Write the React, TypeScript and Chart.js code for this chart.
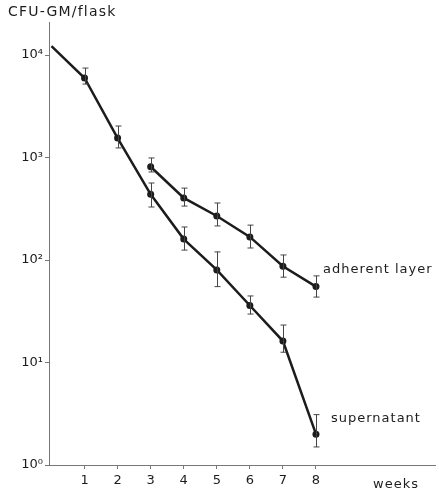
import React, { useEffect, useRef } from "react";
import { Chart, registerables } from "chart.js";

Chart.register(...registerables);

const weeks = [0, 1, 2, 3, 4, 5, 6, 7, 8];
const supernatant = [12200, 5970, 1550, 437, 160, 80, 36, 16.2, 2.0];
const supernatantHigh = [null, 7460, 2030, 564, 210, 120, 44.6, 23.2, 3.1];
const supernatantLow = [null, 5210, 1240, 329, 125, 55, 29.7, 12.6, 1.5];
const adherentWeeks = [3, 4, 5, 6, 7, 8];
const adherent = [813, 403, 269, 168, 87, 55];
const adherentHigh = [990, 503, 360, 219, 112, 70];
const adherentLow = [723, 336, 215, 131, 68, 43.5];
const xTicks = [1, 2, 3, 4, 5, 6, 7, 8];
const yTicks = [1, 10, 100, 1000, 10000];
const yTickLabels: Record<number, string> = { 1: "10⁰", 10: "10¹", 100: "10²", 1000: "10³", 10000: "10⁴" };
const titleText = "CFU-GM/flask";
const xTitleText = "weeks";
const labelAdherent = "adherent layer";
const labelSupernatant = "supernatant";

const FONT = "'DejaVu Sans', sans-serif";
const INK = "#1c1c1c";

export default function App() {
  const ref = useRef<HTMLCanvasElement | null>(null);
  useEffect(() => {
    if (!ref.current) return;
    const errorPlugin = {
      id: "errbars",
      afterDatasetsDraw(chart: any) {
        const ctx = chart.ctx;
        const xs = chart.scales.x;
        const ys = chart.scales.y;
        ctx.save();
        ctx.strokeStyle = "#444";
        ctx.lineWidth = 1;
        const draw = (xv: number[], hi: (number | null)[], lo: (number | null)[]) => {
          xv.forEach((w, i) => {
            const h = hi[i];
            const l = lo[i];
            if (h == null || l == null) return;
            const px = Math.round(xs.getPixelForValue(w)) + 0.5;
            const py1 = ys.getPixelForValue(h);
            const py2 = ys.getPixelForValue(l);
            ctx.beginPath();
            ctx.moveTo(px, py1);
            ctx.lineTo(px, py2);
            ctx.moveTo(px - 3, py1);
            ctx.lineTo(px + 3, py1);
            ctx.moveTo(px - 3, py2);
            ctx.lineTo(px + 3, py2);
            ctx.stroke();
          });
        };
        draw(weeks, supernatantHigh, supernatantLow);
        draw(adherentWeeks, adherentHigh, adherentLow);
        ctx.restore();
      },
      afterDraw(chart: any) {
        const ctx = chart.ctx;
        const xs = chart.scales.x;
        const ys = chart.scales.y;
        ctx.save();
        ctx.fillStyle = INK;
        ctx.textBaseline = "middle";
        ctx.textAlign = "left";
        (ctx as any).letterSpacing = "1.2px";
        ctx.font = `14px ${FONT}`;
        ctx.fillText(titleText, 8, 12);
        (ctx as any).letterSpacing = "1px";
        ctx.font = `13px ${FONT}`;
        const ax = xs.getPixelForValue(adherentWeeks[adherentWeeks.length - 1]);
        const ay = ys.getPixelForValue(adherent[adherent.length - 1]);
        ctx.fillText(labelAdherent, ax + 7, ay - 17);
        const sx = xs.getPixelForValue(weeks[weeks.length - 1]);
        const sy = ys.getPixelForValue(supernatant[supernatant.length - 1]);
        ctx.fillText(labelSupernatant, sx + 15, sy - 16);
        ctx.fillText(xTitleText, 373, 485);
        ctx.restore();
      },
    };

    const chart = new Chart(ref.current, {
      type: "line",
      data: {
        datasets: [
          {
            label: "supernatant",
            data: weeks.map((w, i) => ({ x: w, y: supernatant[i] })),
            borderColor: INK,
            backgroundColor: INK,
            borderWidth: 2.5,
            pointRadius: weeks.map((w) => (w === 0 ? 0 : 3.5)),
            pointBorderWidth: 0,
            tension: 0,
          },
          {
            label: "adherent layer",
            data: adherentWeeks.map((w, i) => ({ x: w, y: adherent[i] })),
            borderColor: INK,
            backgroundColor: INK,
            borderWidth: 2.5,
            pointRadius: 3.5,
            pointBorderWidth: 0,
            tension: 0,
          },
        ],
      },
      options: {
        animation: false,
        responsive: false,
        maintainAspectRatio: false,
        layout: { padding: { top: 22, right: 2, left: 0, bottom: 0 } },
        plugins: { legend: { display: false }, tooltip: { enabled: false } },
        scales: {
          x: {
            type: "linear",
            min: -0.075,
            max: 11.6,
            afterBuildTicks: (s: any) => {
              s.ticks = xTicks.map((v) => ({ value: v }));
            },
            afterFit: (s: any) => {
              s.height = 32;
            },
            grid: { drawOnChartArea: false, drawTicks: true, tickLength: 4, color: "#777" },
            border: { display: true, color: "#777", width: 1 },
            ticks: {
              color: INK,
              font: { family: FONT, size: 13 },
              padding: 4,
              maxRotation: 0,
              callback: (v: any) => String(v),
            },
          },
          y: {
            type: "logarithmic",
            min: 1,
            max: 21000,
            afterBuildTicks: (s: any) => {
              s.ticks = yTicks.map((v) => ({ value: v }));
            },
            afterFit: (s: any) => {
              s.width = 49;
            },
            grid: { drawOnChartArea: false, drawTicks: true, tickLength: 4, color: "#777" },
            border: { display: true, color: "#777", width: 1 },
            ticks: {
              color: INK,
              font: { family: FONT, size: 13 },
              padding: 2,
              callback: (v: any) => yTickLabels[v] ?? "",
            },
          },
        },
      },
      plugins: [errorPlugin],
    } as any);
    return () => chart.destroy();
  }, []);

  return (
    <div style={{ position: "absolute", left: 0, top: 0, width: 439, height: 497, background: "#fff" }}>
      <canvas ref={ref} width={439} height={497} style={{ width: 439, height: 497 }} />
    </div>
  );
}
